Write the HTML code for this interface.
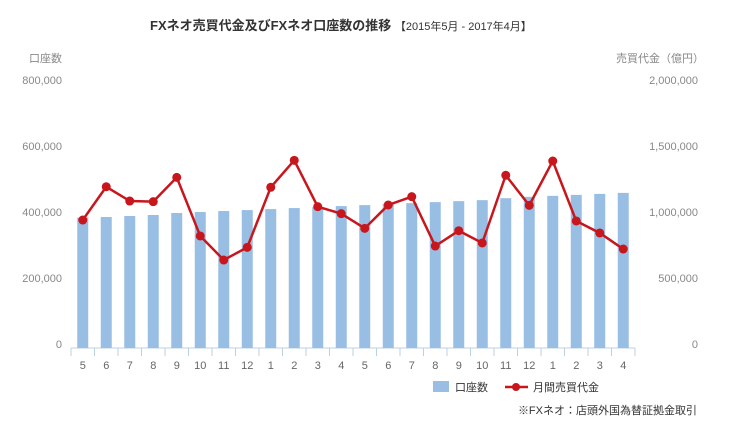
<!DOCTYPE html>
<html><head><meta charset="utf-8"><style>
body{margin:0;background:#fff;width:752px;height:426px;overflow:hidden;font-family:"Liberation Sans","Noto Sans CJK JP",sans-serif}
</style></head><body>
<svg id="chart" width="752" height="426" xmlns="http://www.w3.org/2000/svg" font-family="'Liberation Sans','Noto Sans CJK JP',sans-serif">
<text x="150" y="30" font-size="13" font-weight="bold" fill="#333">FXネオ売買代金及びFXネオ口座数の推移 <tspan font-size="11" font-weight="normal">【2015年5月 - 2017年4月】</tspan></text>
<text x="62" y="62" font-size="11" fill="#888" text-anchor="end">口座数</text>
<svg x="600" y="48" width="98" height="20" overflow="hidden"><text x="16" y="14" font-size="11" fill="#888">売買代金（億円）</text></svg>
<g id="axes"></g><g id="bars"></g><g id="line"></g>
<rect x="433" y="381" width="16" height="11" fill="#99bee4"/>
<text x="455" y="391" font-size="11" fill="#333">口座数</text>
<line x1="505" y1="387" x2="528" y2="387" stroke="#c8161d" stroke-width="2.5"/>
<circle cx="516" cy="387" r="4" fill="#c8161d"/>
<text x="533" y="391" font-size="11" fill="#333">月間売買代金</text>
<text x="697" y="414" font-size="11" fill="#333" text-anchor="end">※FXネオ：店頭外国為替証拠金取引</text>
</svg>
<script>
const months=["5","6","7","8","9","10","11","12","1","2","3","4","5","6","7","8","9","10","11","12","1","2","3","4"];
const accounts=[392,394,397,400,406,409,412,415,418,421,424,427,430,434,436,439,442,445,451,455,458,461,464,467].map(v=>v*1000);
const volume=[962,1214,1106,1101,1285,841,659,755,1210,1414,1063,1010,899,1076,1139,765,881,788,1301,1073,1409,955,864,742].map(v=>v*1000);
const leftTicks=[0,200000,400000,600000,800000];
const rightTicks=[0,500000,1000000,1500000,2000000];
const NS="http://www.w3.org/2000/svg";
const x0=71,x1=635,yBase=347,yTop=83;
const bw=(x1-x0)/months.length;
const xc=i=>x0+bw*(i+0.5);
const yL=v=>yBase-(v/800000)*(yBase-yTop);
const yR=v=>yBase-(v/2000000)*(yBase-yTop);
function mk(tag,attrs,parent){const e=document.createElementNS(NS,tag);for(const k in attrs)e.setAttribute(k,attrs[k]);parent.appendChild(e);return e;}
const axes=document.getElementById('axes'),bars=document.getElementById('bars'),line=document.getElementById('line');
const fmt=v=>v.toLocaleString('en-US');
leftTicks.forEach(v=>{const t=mk('text',{x:62,y:yL(v)+1,'font-size':11,fill:'#888','text-anchor':'end'},axes);t.textContent=fmt(v);

});
rightTicks.forEach(v=>{const t=mk('text',{x:698,y:yR(v)+1,'font-size':11,fill:'#888','text-anchor':'end'},axes);t.textContent=fmt(v);

});
const ax=mk('line',{x1:x0,y1:yBase+1,x2:x1,y2:yBase+1,stroke:'#bcd0e0','stroke-width':1},axes);


for(let i=0;i<=months.length;i++){mk('line',{x1:x0+bw*i,y1:yBase+1,x2:x0+bw*i,y2:yBase+9,stroke:'#bcd0e0'},axes);}
months.forEach((m,i)=>{const t=mk('text',{x:xc(i),y:yBase+22,'font-size':11,fill:'#666','text-anchor':'middle'},axes);t.textContent=m;

});
accounts.forEach((v,i)=>{const r=mk('rect',{x:xc(i)-5.5,y:yL(v),width:11,height:yBase+1-yL(v),fill:'#99bee4'},bars);

});
const pl=mk('polyline',{points:volume.map((v,i)=>xc(i)+','+yR(v)).join(' '),fill:'none',stroke:'#c8161d','stroke-width':2.5},line);


volume.forEach((v,i)=>{const c=mk('circle',{cx:xc(i),cy:yR(v),r:4.5,fill:'#c8161d'},line);

});
</script>
</body></html>
